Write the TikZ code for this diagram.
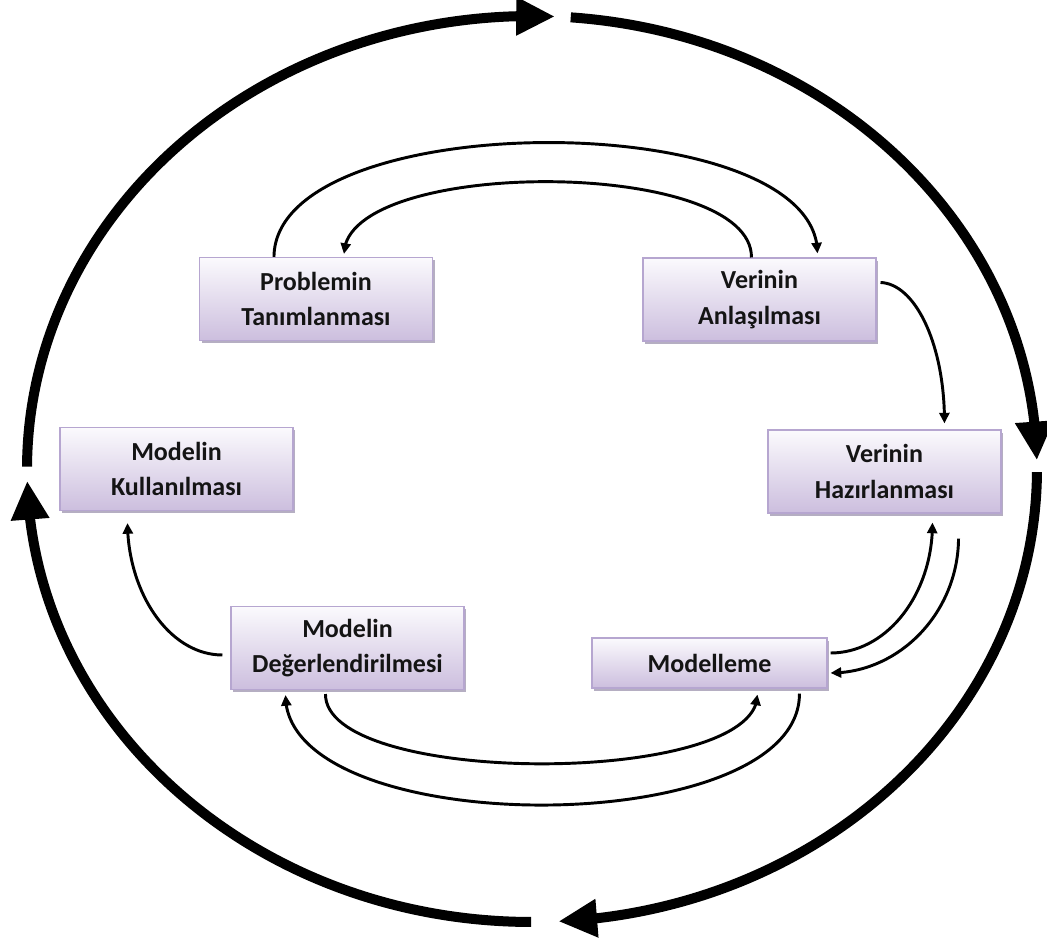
\documentclass[tikz,border=0pt]{standalone}
\usepackage{fontspec}
\setmainfont{Carlito}
\usetikzlibrary{arrows.meta,bending,calc,shadows}
\definecolor{boxtop}{RGB}{251,250,253}
\definecolor{boxbot}{RGB}{204,190,222}
\definecolor{boxline}{RGB}{182,166,208}
\definecolor{shadowc}{RGB}{150,140,168}
\begin{document}
\begin{tikzpicture}[x=0.75pt,y=-0.75pt,
  stage/.style={draw=boxline, line width=0.8pt, top color=boxtop, bottom color=boxbot,
    minimum width=174.75pt, minimum height=62.25pt, align=center, inner sep=0pt,
    font=\fontsize{19.5}{26.5}\selectfont\bfseries, text=black!92,
    drop shadow={shadow xshift=1.8pt, shadow yshift=-2pt, fill=shadowc, opacity=0.7}},
  ring/.style={line width=7.5pt, -{Triangle[length=29pt,width=27pt]}},
  flow/.style={line width=2.2pt, -{Triangle[length=8pt,width=7.5pt]}}]
\useasboundingbox (0,0) rectangle (1047,944);
% boxes
\node[stage] (P) at (316,299) {Problemin\\Tanımlanması};
\node[stage] (V) at (759.5,299.5) {Verinin\\Anlaşılması};
\node[stage] (K) at (176.5,469) {Modelin\\Kullanılması};
\node[stage] (H) at (884.5,471.5) {Verinin\\Hazırlanması};
\node[stage] (D) at (347.5,648) {Modelin\\Değerlendirilmesi};
\node[stage, minimum width=176.25pt, minimum height=37.5pt] (M) at (709.5,663) {Modelleme};
% outer ring
\coordinate (c) at (532,469);
\draw[ring] (c) ++(-179.7:505 and 453) arc[start angle=-179.7,end angle=-87.4,x radius=505,y radius=453];
\draw[ring] (c) ++(-85.6:505 and 453) arc[start angle=-85.6,end angle=-1.1,x radius=505,y radius=453];
\draw[ring] (c) ++(0.4:505 and 453) arc[start angle=0.4,end angle=87.0,x radius=505,y radius=453];
\draw[ring] (c) ++(90.1:505 and 453) arc[start angle=90.1,end angle=178.5,x radius=505,y radius=453];
% inner connectors
\draw[flow] ($(P.north west)+(75,0)$) .. controls (275,105) and (818,105) .. ($(V.north west)+(175,-4)$);
\draw[flow] ($(V.north west)+(109,0)$) .. controls (752,157) and (345,157) .. ($(P.north west)+(145,-3)$);
\draw[flow] ($(V.north east)+(4,25)$) .. controls (916,284) and (945,346) .. ($(H.north west)+(177,-6)$);
\draw[flow] ($(M.east)+(3,-10)$) .. controls (887,653) and (933,594) .. ($(H.south west)+(165,9)$);
\draw[flow] ($(H.south east)+(-43,25)$) .. controls (958,612) and (900,673) .. ($(M.east)+(3,10)$);
\draw[flow] ($(D.south west)+(95,4)$) .. controls (325,787) and (758,787) .. ($(M.south west)+(166,6)$);
\draw[flow] ($(M.south west)+(208,5)$) .. controls (800,842) and (285,842) .. ($(D.south west)+(55,5)$);
\draw[flow] ($(D.west)+(-8,7)$) .. controls (170,655) and (128,594) .. ($(K.south west)+(68,12)$);
\end{tikzpicture}
\end{document}
